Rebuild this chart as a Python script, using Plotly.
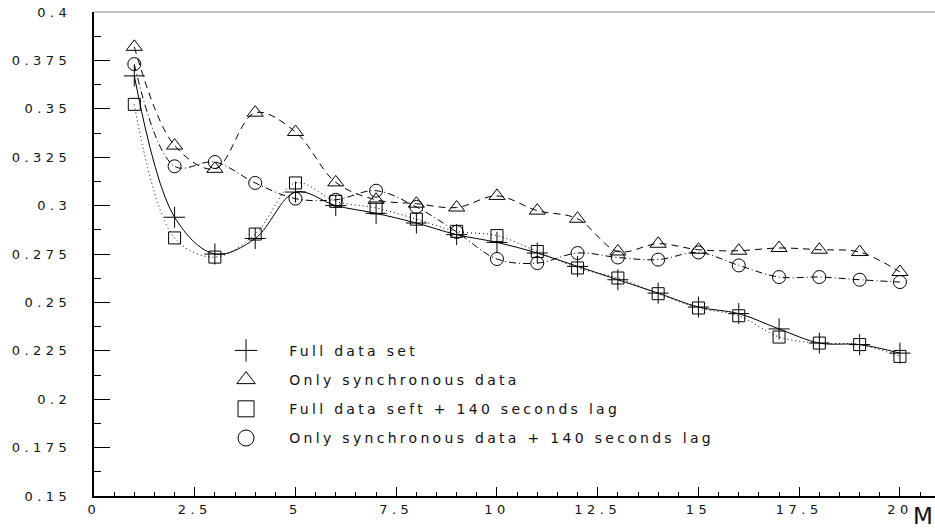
import plotly.graph_objects as go

# ---- data ----
M = list(range(1, 21))
full_data = [0.367, 0.294, 0.275, 0.283, 0.307, 0.300, 0.296, 0.291, 0.285, 0.281,
             0.2755, 0.2686, 0.2617, 0.2548, 0.2476, 0.2442, 0.2363, 0.229, 0.2282, 0.2238]
sync_data = [0.382, 0.331, 0.319, 0.348, 0.338, 0.312, 0.303, 0.301, 0.299, 0.305,
             0.2974, 0.2932, 0.2763, 0.2803, 0.2772, 0.2767, 0.2781, 0.2772, 0.276, 0.2657]
full_lag = [0.3523, 0.2833, 0.2734, 0.2853, 0.3117, 0.3022, 0.2988, 0.293, 0.2867, 0.2845,
            0.2763, 0.2678, 0.2626, 0.2545, 0.2471, 0.2431, 0.2321, 0.229, 0.2282, 0.2221]
sync_lag = [0.3731, 0.3203, 0.3225, 0.3117, 0.3036, 0.303, 0.3077, 0.2993, 0.2864, 0.2724,
            0.2703, 0.2755, 0.2732, 0.2721, 0.2758, 0.2691, 0.2631, 0.2631, 0.2617, 0.2605]

names = ["Full data set", "Only synchronous data",
         "Full data seft + 140 seconds lag", "Only synchronous data + 140 seconds lag"]
series = [full_data, sync_data, full_lag, sync_lag]
symbols = ["cross-thin-open", "triangle-up-open", "square-open", "circle-open"]
sizes = [15, 14, 12, 13]
dashes = ["solid", "7px,5px", "1px,3px", "7px,3px,1px,3px"]

FONT = "DejaVu Sans"
TXT = "#111"
fig = go.Figure()

for y, sym, sz, dsh in zip(series, symbols, sizes, dashes):
    fig.add_trace(go.Scatter(
        x=M, y=y, mode="lines+markers", showlegend=False,
        line=dict(color="black", width=1, dash=dsh, shape="spline", smoothing=1),
        marker=dict(symbol=sym, size=sz, color="black", line=dict(color="black", width=1)),
    ))

# legend-only entries (markers only)
for i, (nm, sym) in enumerate(zip(names, symbols)):
    fig.add_trace(go.Scatter(
        x=[None], y=[None], mode="markers", name="\u00a0\u00a0\u00a0" + nm,
        legendgroup=f"g{i}",
        marker=dict(symbol=sym, size=18, color="black", line=dict(color="black", width=1)),
    ))

fig.update_layout(
    width=935, height=531,
    margin=dict(l=94, r=0, t=12, b=35),
    plot_bgcolor="white", paper_bgcolor="white",
    font=dict(family=FONT, size=13, color=TXT),
    legend=dict(x=0.157, y=0.333, xanchor="left", yanchor="top",
                bgcolor="rgba(0,0,0,0)", borderwidth=0,
                font=dict(family=FONT, size=14, color=TXT),
                traceorder="grouped", tracegroupgap=8),
    xaxis=dict(range=[0, 20.87], tick0=0, dtick=2.5, showgrid=False, zeroline=False,
               showline=True, linecolor="black", linewidth=1.5,
               ticks="inside", ticklen=9, tickcolor="black", tickwidth=1,
               ticklabelstandoff=1,
               tickfont=dict(family=FONT, size=13, color=TXT),
               minor=dict(dtick=0.5, ticks="inside", ticklen=4, tickcolor="black", tickwidth=1)),
    yaxis=dict(range=[0.15, 0.4], tick0=0.15, dtick=0.025, showgrid=False, zeroline=False,
               showline=True, linecolor="black", linewidth=2,
               ticks="inside", ticklen=16, tickcolor="black", tickwidth=1,
               ticklabelstandoff=18,
               tickfont=dict(family=FONT, size=13, color=TXT),
               minor=dict(dtick=0.0125, ticks="inside", ticklen=7, tickcolor="black", tickwidth=1)),
    shapes=[dict(type="line", xref="paper", yref="paper", x0=0, x1=1, y0=1, y1=1,
                 line=dict(color="#888", width=1))],
    annotations=[dict(text="M", xref="paper", yref="paper", x=1, y=-35 / 484,
                      xanchor="right", yanchor="bottom", showarrow=False,
                      font=dict(family=FONT, size=23, color=TXT))],
)

post = """
document.querySelectorAll('.xtick text, .ytick text').forEach(function(t){t.style.letterSpacing='4.5px';});
document.querySelectorAll('.legendtext').forEach(function(t){t.style.letterSpacing='3.3px';});
document.querySelectorAll('.legend, .legend *').forEach(function(e){e.removeAttribute('clip-path');});
"""
fig.write_html("out.html", post_script=post)
